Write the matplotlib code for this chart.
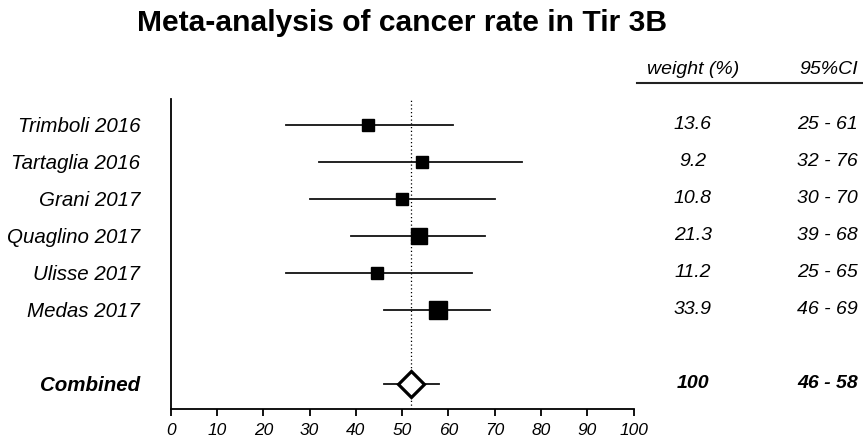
"""Forest plot: meta-analysis of cancer rate in Tir 3B"""
# ---   IMPORTS   --- #
# ------------------- #
import matplotlib
matplotlib.use('Agg')
import matplotlib.pyplot as plt
from matplotlib.transforms import blended_transform_factory


# ---   DATA   --- #
# ---------------- #
STUDIES = [
    'Trimboli 2016',
    'Tartaglia 2016',
    'Grani 2017',
    'Quaglino 2017',
    'Ulisse 2017',
    'Medas 2017'
]
RATE = [42.7, 54.3, 50.0, 53.7, 44.6, 57.7]
CI_LOW = [25, 32, 30, 39, 25, 46]
CI_HIGH = [61, 76, 70, 68, 65, 69]
WEIGHT = [13.6, 9.2, 10.8, 21.3, 11.2, 33.9]

COMBINED_NAME = 'Combined'
COMBINED_RATE = 52.0
COMBINED_LOW = 46
COMBINED_HIGH = 58
COMBINED_WEIGHT = 100

X_TICKS = list(range(0, 101, 10))
TITLE = 'Meta-analysis of cancer rate in Tir 3B'


# ---   STYLE   --- #
# ----------------- #
FONT = ['Liberation Sans', 'DejaVu Sans']
MARKER_SIZE = [8.4, 8.6, 8.6, 11.0, 8.4, 13.5]  # points, per study
COMBINED_ROW = len(STUDIES) + 1  # leave one empty row


# ---   METHODS   --- #
# ------------------- #
def graph():
    plt.rcParams['font.family'] = FONT
    fig = plt.figure(figsize=(8.63, 4.40), dpi=100)
    ax = fig.add_axes([0.1978, 0.0705, 0.5363, 0.7045])
    rows = list(range(len(STUDIES)))

    # Reference (combined) dotted line
    ax.axvline(COMBINED_RATE, color='black', lw=0.9, ls=(0, (1, 2)),
               zorder=1)
    # Studies
    for r, x, lo, hi, ms in zip(rows, RATE, CI_LOW, CI_HIGH, MARKER_SIZE):
        ax.plot([lo, hi], [r, r], color='#111111', lw=1.3, zorder=2)
        ax.plot(x, r, marker='s', ms=ms, color='black', zorder=3)
    # Combined estimate
    ax.plot([COMBINED_LOW, COMBINED_HIGH], [COMBINED_ROW, COMBINED_ROW],
            color='#111111', lw=1.3, zorder=2)
    ax.plot(COMBINED_RATE, COMBINED_ROW, marker='D', ms=13.5,
            mfc='white', mec='black', mew=2.3, zorder=3)

    # Axes format
    ax.set_xlim(0, 100)
    ax.set_ylim(COMBINED_ROW + 0.68, -0.7)
    ax.set_xticks(X_TICKS)
    ax.set_xticklabels([str(t) for t in X_TICKS], fontsize=12.5,
                       style='italic')
    ax.set_yticks(rows + [COMBINED_ROW])
    ax.set_yticklabels(STUDIES + [COMBINED_NAME], fontsize=14.8,
                       style='italic')
    ax.get_yticklabels()[-1].set_fontweight('bold')
    ax.tick_params(axis='y', length=0, pad=22)
    ax.tick_params(axis='x', length=5, width=1.3, pad=5)
    for side in ['top', 'right']:
        ax.spines[side].set_visible(False)
    for side in ['left', 'bottom']:
        ax.spines[side].set_linewidth(1.3)

    # Right-hand columns: weight and CI
    trans = blended_transform_factory(fig.transFigure, ax.transData)
    for r, w, lo, hi in zip(rows, WEIGHT, CI_LOW, CI_HIGH):
        ax.text(0.803, r, f'{w}', transform=trans, ha='center',
                va='center', fontsize=14, style='italic')
        ax.text(0.994, r, f'{lo} - {hi}', transform=trans, ha='right',
                va='center', fontsize=14, style='italic')
    ax.text(0.803, COMBINED_ROW, f'{COMBINED_WEIGHT}', transform=trans,
            ha='center', va='center', fontsize=14, style='italic',
            fontweight='bold')
    ax.text(0.994, COMBINED_ROW, f'{COMBINED_LOW} - {COMBINED_HIGH}',
            transform=trans, ha='right', va='center', fontsize=14,
            style='italic', fontweight='bold')

    # Column headers with underline
    fig.text(0.803, 0.842, 'weight (%)', ha='center', va='center',
             fontsize=14, style='italic')
    fig.text(0.994, 0.842, '95%CI', ha='right', va='center',
             fontsize=14, style='italic')
    fig.add_artist(plt.Line2D([0.738, 1.0], [0.812, 0.812], color='#222222',
                              lw=1.5, transform=fig.transFigure))

    # Title
    fig.text(0.466, 0.948, TITLE, ha='center', va='center', fontsize=21.6,
             fontweight='bold')

    fig.savefig('out.png', dpi=100)


# ---     MAIN     --- #
# -------------------- #
if __name__ == '__main__':
    graph()
